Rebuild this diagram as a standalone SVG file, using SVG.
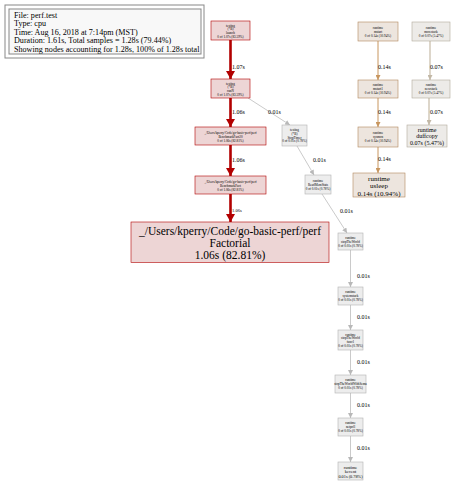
<svg xmlns="http://www.w3.org/2000/svg" width="454" height="483" viewBox="0 0 454 483">
<defs>
<style>
text{font-family:"Liberation Serif","Times New Roman",serif;text-anchor:middle;fill:#000}
.lg text{text-anchor:start;font-size:8.1px}
.red rect{fill:#edd5d5;stroke:#b20000;stroke-width:0.6}
.tan rect{fill:#ede5de;stroke:#b2875c;stroke-width:0.6}
.bg rect{fill:#edebe8;stroke:#b2aa9c;stroke-width:0.6}
.gr rect{fill:#ededed;stroke:#b2b2b2;stroke-width:0.6}
.s{font-size:3.3px}
.el{font-size:6px;text-anchor:start}
.big{font-size:11.5px}
.e-red{stroke:#b20000;stroke-width:2.6;fill:none}
.e-tan{stroke:#c8965f;stroke-width:1;fill:none}
.e-bg{stroke:#d2c9b9;stroke-width:1.5;fill:none}
.e-gr{stroke:#bdbdbd;stroke-width:0.8;fill:none}
</style>
<marker id="mr" markerUnits="userSpaceOnUse" markerWidth="8" markerHeight="9" refX="8" refY="4.5" orient="auto"><path d="M0,0L8,4.5L0,9z" fill="#b20000"/></marker>
<marker id="mt" markerUnits="userSpaceOnUse" markerWidth="5" markerHeight="5" refX="5" refY="2.5" orient="auto"><path d="M0,0L5,2.5L0,5z" fill="#c8965f"/></marker>
<marker id="mb" markerUnits="userSpaceOnUse" markerWidth="5" markerHeight="5" refX="5" refY="2.5" orient="auto"><path d="M0,0L5,2.5L0,5z" fill="#c2b8a6"/></marker>
<marker id="mg" markerUnits="userSpaceOnUse" markerWidth="5" markerHeight="5" refX="5" refY="2.5" orient="auto"><path d="M0,0L5,2.5L0,5z" fill="#b8b8b8"/></marker>
</defs>
<rect width="454" height="483" fill="#fff"/>

<g id="legend" class="lg">
<rect x="5" y="5" width="199" height="53" fill="#fff" stroke="#888" stroke-width="1"/>
<rect x="9" y="9" width="192" height="45" fill="#f8f8f8" stroke="#888" stroke-width="1"/>
<text x="14" y="17.5">File: perf.test</text>
<text x="14" y="26">Type: cpu</text>
<text x="14" y="34.5">Time: Aug 16, 2018 at 7:14pm (MST)</text>
<text x="14" y="43">Duration: 1.61s, Total samples = 1.28s (79.44%)</text>
<text x="14" y="51.5">Showing nodes accounting for 1.28s, 100% of 1.28s total</text>
</g>

<g id="edges">
<path class="e-red" d="M230.5,40V79" marker-end="url(#mr)"/>
<text class="el" x="232" y="69">1.07s</text>
<path class="e-red" d="M230.5,98V127" marker-end="url(#mr)"/>
<text class="el" x="232" y="114">1.06s</text>
<path class="e-red" d="M230.5,145V176" marker-end="url(#mr)"/>
<text class="el" x="232" y="162">1.06s</text>
<path class="e-red" d="M230.5,194V222" marker-end="url(#mr)"/>
<text class="el" x="232" y="212" style="font-size:4.5px">1.06s</text>

<path class="e-gr" d="M248,98L290,125" marker-end="url(#mg)"/>
<text class="el" x="268" y="114">0.01s</text>
<path class="e-gr" d="M297,146L314,175" marker-end="url(#mg)"/>
<text class="el" x="313" y="162">0.01s</text>
<path class="e-gr" d="M322,194L347,233" marker-end="url(#mg)"/>
<text class="el" x="340" y="213">0.01s</text>
<path class="e-gr" d="M350.5,250V287" marker-end="url(#mg)"/>
<text class="el" x="357" y="278">0.01s</text>
<path class="e-gr" d="M350.5,305V330" marker-end="url(#mg)"/>
<text class="el" x="357" y="319">0.01s</text>
<path class="e-gr" d="M350.5,350V375" marker-end="url(#mg)"/>
<text class="el" x="357" y="364">0.01s</text>
<path class="e-gr" d="M350.5,393V418" marker-end="url(#mg)"/>
<text class="el" x="357" y="407">0.01s</text>
<path class="e-gr" d="M350.5,436V462" marker-end="url(#mg)"/>
<text class="el" x="357" y="450">0.01s</text>

<path class="e-tan" d="M378,41V80" marker-end="url(#mt)"/>
<text class="el" x="378" y="69">0.14s</text>
<path class="e-tan" d="M378,98V127" marker-end="url(#mt)"/>
<text class="el" x="378" y="114">0.14s</text>
<path class="e-tan" d="M378,147V173" marker-end="url(#mt)"/>
<text class="el" x="378" y="161">0.14s</text>

<path class="e-bg" d="M430,41V80" marker-end="url(#mb)"/>
<text class="el" x="430" y="69">0.07s</text>
<path class="e-bg" d="M429,98V125" marker-end="url(#mb)"/>
<text class="el" x="430" y="114">0.07s</text>
</g>

<g id="launch" class="red"><rect x="211" y="21" width="39" height="19"/>
<text class="s" x="230.5" y="26.5">testing</text><text class="s" x="230.5" y="30.3">(*B)</text><text class="s" x="230.5" y="34.1">launch</text><text class="s" x="230.5" y="37.9">0 of 1.07s (83.59%)</text></g>

<g id="runN" class="red"><rect x="211" y="79" width="39" height="19"/>
<text class="s" x="230.5" y="84.5">testing</text><text class="s" x="230.5" y="88.3">(*B)</text><text class="s" x="230.5" y="92.1">runN</text><text class="s" x="230.5" y="95.9">0 of 1.07s (83.59%)</text></g>

<g id="BenchmarkFact20" class="red"><rect x="195" y="127" width="71" height="18"/>
<text class="s" x="230.5" y="133.5">_/Users/kperry/Code/go-basic-perf/perf</text><text class="s" x="230.5" y="137.5">BenchmarkFact20</text><text class="s" x="230.5" y="141.5">0 of 1.06s (82.81%)</text></g>

<g id="BenchmarkFact" class="red"><rect x="195" y="176" width="71" height="18"/>
<text class="s" x="230.5" y="182.5">_/Users/kperry/Code/go-basic-perf/perf</text><text class="s" x="230.5" y="186.5">BenchmarkFact</text><text class="s" x="230.5" y="190.5">0 of 1.06s (82.81%)</text></g>

<g id="Factorial" class="red"><rect x="131" y="222" width="198" height="40.5"/>
<text class="big" x="230" y="234.5">_/Users/kperry/Code/go-basic-perf/perf</text>
<text class="big" x="230" y="246.5">Factorial</text>
<text class="big" x="230" y="258.5">1.06s (82.81%)</text></g>

<g id="StopTimer" class="gr"><rect x="282" y="125" width="25" height="21"/>
<text class="s" x="294.5" y="131">testing</text><text class="s" x="294.5" y="134.8">(*B)</text><text class="s" x="294.5" y="138.6">StopTimer</text><text class="s" x="294.5" y="142.4">0 of 0.01s (0.78%)</text></g>

<g id="ReadMemStats" class="gr"><rect x="305" y="175" width="26" height="19"/>
<text class="s" x="318" y="181.5">runtime</text><text class="s" x="318" y="185.5">ReadMemStats</text><text class="s" x="318" y="189.5">0 of 0.01s (0.78%)</text></g>

<g id="stopTheWorld" class="gr"><rect x="338" y="233" width="25" height="17"/>
<text class="s" x="350.5" y="238.5">runtime</text><text class="s" x="350.5" y="242.5">stopTheWorld</text><text class="s" x="350.5" y="246.5">0 of 0.01s (0.78%)</text></g>

<g id="systemstack" class="gr"><rect x="338" y="287" width="25" height="18"/>
<text class="s" x="350.5" y="293">runtime</text><text class="s" x="350.5" y="297">systemstack</text><text class="s" x="350.5" y="301">0 of 0.01s (0.78%)</text></g>

<g id="stopTheWorldFunc1" class="gr"><rect x="338" y="330" width="25" height="20"/>
<text class="s" x="350.5" y="335.5">runtime</text><text class="s" x="350.5" y="339.3">stopTheWorld</text><text class="s" x="350.5" y="343.1">func1</text><text class="s" x="350.5" y="346.9">0 of 0.01s (0.78%)</text></g>

<g id="stopTheWorldWithSema" class="gr"><rect x="335" y="375" width="31" height="18"/>
<text class="s" x="350.5" y="381">runtime</text><text class="s" x="350.5" y="385">stopTheWorldWithSema</text><text class="s" x="350.5" y="389">0 of 0.01s (0.78%)</text></g>

<g id="netpoll" class="gr"><rect x="338" y="418" width="25" height="18"/>
<text class="s" x="350.5" y="424">runtime</text><text class="s" x="350.5" y="428">netpoll</text><text class="s" x="350.5" y="432">0 of 0.01s (0.78%)</text></g>

<g id="kevent" class="gr"><rect x="338" y="462" width="25" height="18"/>
<text x="350.5" y="468.5" style="font-size:4.3px">runtime</text><text x="350.5" y="473" style="font-size:4.3px">kevent</text><text x="350.5" y="477.5" style="font-size:4.3px">0.01s (0.78%)</text></g>

<g id="mstart" class="tan"><rect x="358" y="22" width="40" height="19"/>
<text class="s" x="378" y="28.5">runtime</text><text class="s" x="378" y="32.5">mstart</text><text class="s" x="378" y="36.5">0 of 0.14s (10.94%)</text></g>

<g id="mstart1" class="tan"><rect x="358" y="80" width="40" height="18"/>
<text class="s" x="378" y="86">runtime</text><text class="s" x="378" y="90">mstart1</text><text class="s" x="378" y="94">0 of 0.14s (10.94%)</text></g>

<g id="sysmon" class="tan"><rect x="358" y="127" width="40" height="20"/>
<text class="s" x="378" y="133.5">runtime</text><text class="s" x="378" y="137.5">sysmon</text><text class="s" x="378" y="141.5">0 of 0.14s (10.94%)</text></g>

<g id="usleep" class="tan"><rect x="353" y="173" width="52" height="24"/>
<text x="379" y="180.5" style="font-size:7px">runtime</text><text x="379" y="188" style="font-size:7px">usleep</text><text x="379" y="195.5" style="font-size:7px">0.14s (10.94%)</text></g>

<g id="morestack" class="bg"><rect x="412" y="22" width="38" height="19"/>
<text class="s" x="431" y="28.5">runtime</text><text class="s" x="431" y="32.5">morestack</text><text class="s" x="431" y="36.5">0 of 0.07s (5.47%)</text></g>

<g id="newstack" class="bg"><rect x="412" y="80" width="38" height="18"/>
<text class="s" x="431" y="86">runtime</text><text class="s" x="431" y="90">newstack</text><text class="s" x="431" y="94">0 of 0.07s (5.47%)</text></g>

<g id="duffcopy" class="bg"><rect x="407" y="125" width="40" height="22"/>
<text x="427" y="131.5" style="font-size:6px">runtime</text><text x="427" y="138" style="font-size:6px">duffcopy</text><text x="427" y="144.5" style="font-size:6px">0.07s (5.47%)</text></g>
</svg>
